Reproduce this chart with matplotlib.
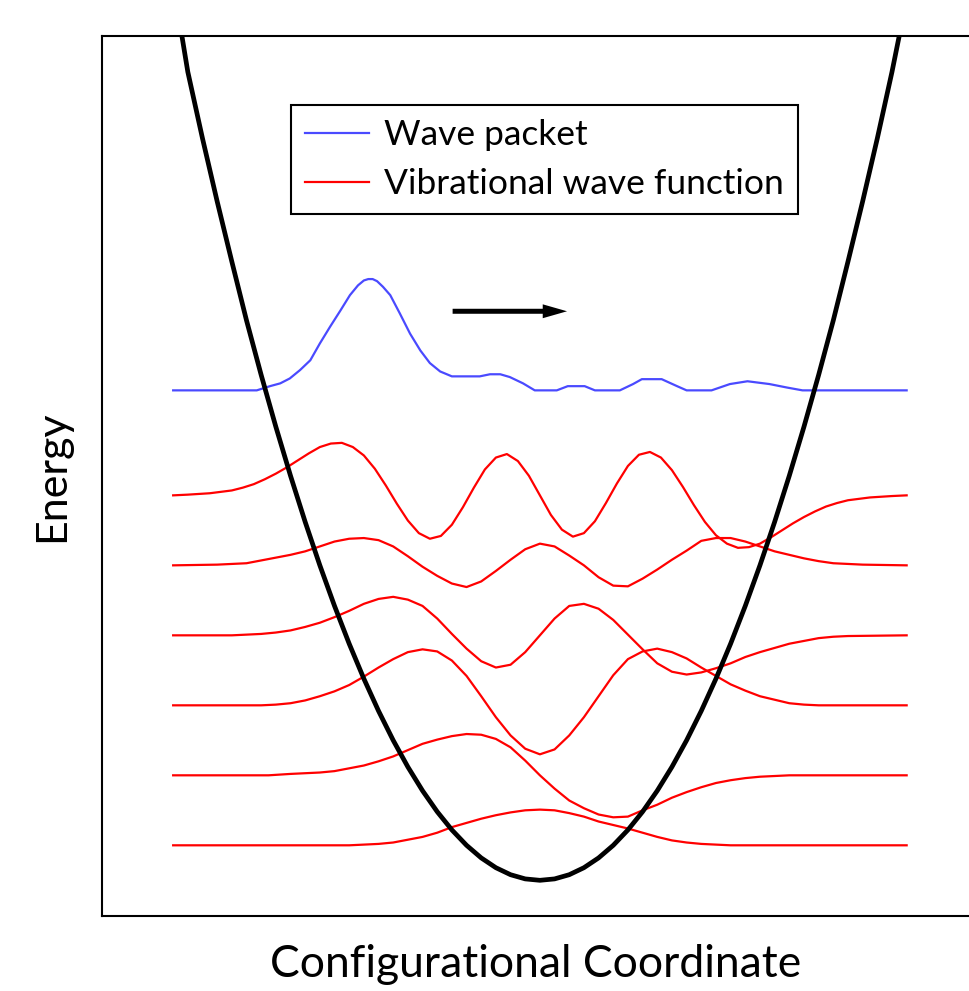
import matplotlib
matplotlib.use('Agg')
import matplotlib.pyplot as plt

plt.rcParams['font.family'] = ['Lato', 'DejaVu Sans']

# potential well V(q)
pot_x = [-5.05, -4.88, -4.8, -4.6, -4.4, -4.2, -4.0, -3.8, -3.6, -3.4, -3.2, -3.0, -2.8, -2.6,
         -2.4, -2.2, -2.0, -1.8, -1.6, -1.4, -1.2, -1.0, -0.8, -0.6, -0.4, -0.2, 0.0,
         0.2, 0.4, 0.6, 0.8, 1.0, 1.2, 1.4, 1.6, 1.8, 2.0, 2.2, 2.4, 2.6, 2.8, 3.0,
         3.2, 3.4, 3.6, 3.8, 4.0, 4.2, 4.4, 4.6, 4.8, 4.90, 5.07]
pot_y = [12.9, 12.06, 11.55, 10.6, 9.7, 8.84, 8.0, 7.22, 6.48, 5.78, 5.12, 4.5, 3.92, 3.38,
         2.88, 2.42, 2.0, 1.62, 1.28, 0.98, 0.72, 0.5, 0.32, 0.18, 0.08, 0.02, 0.0,
         0.02, 0.08, 0.18, 0.32, 0.5, 0.72, 0.98, 1.28, 1.62, 2.0, 2.42, 2.88, 3.38, 3.92, 4.5,
         5.12, 5.78, 6.48, 7.22, 8.0, 8.84, 9.7, 10.6, 11.55, 12.07, 12.9]

# vibrational levels (units of hbar*omega) and the wave functions drawn on them
levels = [0.5, 1.5, 2.5, 3.5, 4.5, 5.5]

psi0_x = [-5.0, -2.6, -2.4, -2.2, -2.0, -1.8, -1.6, -1.4, -1.2, -1.0, -0.8, -0.6, -0.4, -0.2, 0.0,
          0.2, 0.4, 0.6, 0.8, 1.0, 1.2, 1.4, 1.6, 1.8, 2.0, 2.2, 2.4, 2.6, 5.0]
psi0_y = [0, 0, 0.01, 0.02, 0.04, 0.08, 0.12, 0.18, 0.26, 0.32, 0.38, 0.43, 0.47, 0.50, 0.51,
          0.50, 0.46, 0.41, 0.34, 0.29, 0.24, 0.18, 0.12, 0.07, 0.04, 0.02, 0.01, 0, 0]

psi1_x = [-5.0, -3.7, -3.4, -3.2, -3.0, -2.8, -2.6, -2.4, -2.2, -2.0, -1.8, -1.6, -1.4, -1.2,
          -1.0, -0.8, -0.6, -0.4, -0.2, 0.0, 0.2, 0.4, 0.6, 0.8, 1.0, 1.2, 1.4, 1.6, 1.8,
          2.0, 2.2, 2.4, 2.6, 2.8, 3.0, 3.2, 3.4, 5.0]
psi1_y = [0, 0, 0.02, 0.03, 0.04, 0.06, 0.10, 0.14, 0.20, 0.27, 0.36, 0.45, 0.51, 0.56,
          0.59, 0.58, 0.52, 0.40, 0.21, 0.0, -0.19, -0.36, -0.47, -0.56, -0.60, -0.59, -0.50,
          -0.42, -0.32, -0.24, -0.17, -0.11, -0.07, -0.04, -0.02, -0.01, 0, 0]

psi2_x = [-5.0, -3.8, -3.6, -3.4, -3.2, -3.0, -2.8, -2.6, -2.4, -2.2, -2.0, -1.8, -1.6, -1.4,
          -1.2, -1.0, -0.8, -0.6, -0.4, -0.2, 0.0, 0.2, 0.4, 0.6, 0.8, 1.0, 1.2, 1.4, 1.6,
          1.8, 2.0, 2.2, 2.4, 2.6, 2.8, 3.0, 3.2, 3.4, 3.6, 3.8, 5.0]
psi2_y = [0, 0, 0.01, 0.03, 0.07, 0.13, 0.20, 0.29, 0.41, 0.54, 0.66, 0.76, 0.80, 0.77,
          0.64, 0.42, 0.13, -0.17, -0.43, -0.62, -0.70, -0.63, -0.43, -0.17, 0.13, 0.43, 0.66,
          0.77, 0.81, 0.76, 0.67, 0.54, 0.42, 0.30, 0.21, 0.13, 0.08, 0.03, 0.01, 0, 0]

psi3_x = [-5.0, -4.2, -4.0, -3.8, -3.6, -3.4, -3.2, -3.0, -2.8, -2.6, -2.4, -2.2, -2.0, -1.8,
          -1.6, -1.4, -1.2, -1.0, -0.8, -0.6, -0.4, -0.2, 0.0, 0.2, 0.4, 0.6, 0.8, 1.0, 1.2,
          1.4, 1.6, 1.8, 2.0, 2.2, 2.4, 2.6, 2.8, 3.0, 3.2, 3.4, 3.6, 3.8, 4.0, 4.2, 5.0]
psi3_y = [0, 0, 0.01, 0.02, 0.04, 0.07, 0.12, 0.18, 0.26, 0.35, 0.45, 0.52, 0.55, 0.51,
          0.42, 0.24, 0.02, -0.19, -0.37, -0.46, -0.42, -0.24, 0.0, 0.24, 0.42, 0.45, 0.38, 0.22,
          0.01, -0.20, -0.40, -0.52, -0.56, -0.53, -0.47, -0.40, -0.31, -0.24, -0.18, -0.12,
          -0.08, -0.04, -0.02, -0.01, 0]

psi4_x = [-5.0, -4.4, -4.2, -4.0, -3.8, -3.6, -3.4, -3.2, -3.0, -2.8, -2.6, -2.4, -2.2, -2.0,
          -1.8, -1.6, -1.4, -1.2, -1.0, -0.8, -0.6, -0.4, -0.2, 0.0, 0.2, 0.4, 0.6, 0.8, 1.0,
          1.2, 1.4, 1.6, 1.8, 2.0, 2.2, 2.4, 2.6, 2.8, 3.0, 3.2, 3.4, 3.6, 3.8, 4.0, 4.2,
          4.4, 5.0]
psi4_y = [0, 0.01, 0.02, 0.03, 0.07, 0.11, 0.15, 0.20, 0.27, 0.34, 0.38, 0.39, 0.36, 0.27,
          0.13, -0.02, -0.15, -0.26, -0.31, -0.23, -0.08, 0.08, 0.23, 0.31, 0.27, 0.14, 0.0,
          -0.17, -0.29, -0.30, -0.19, -0.06, 0.08, 0.21, 0.35, 0.39, 0.39, 0.34, 0.27, 0.20,
          0.15, 0.10, 0.06, 0.03, 0.02, 0.01, 0]

psi5_x = [-5.0, -4.8, -4.5, -4.35, -4.2, -4.05, -3.9, -3.75, -3.6, -3.45, -3.3, -3.15, -3.0,
          -2.85, -2.7, -2.55, -2.4, -2.25, -2.1, -1.95, -1.8, -1.65, -1.5, -1.35, -1.2, -1.05,
          -0.9, -0.75, -0.6, -0.45, -0.3, -0.15, 0.0, 0.15, 0.3, 0.45, 0.6, 0.75, 0.9, 1.05,
          1.2, 1.35, 1.5, 1.65, 1.8, 1.95, 2.1, 2.25, 2.4, 2.55, 2.7, 2.85, 3.0, 3.15, 3.3,
          3.45, 3.6, 3.75, 3.9, 4.05, 4.2, 4.35, 4.5, 4.8, 5.0]
psi5_y = [0, 0.01, 0.03, 0.05, 0.07, 0.11, 0.16, 0.23, 0.31, 0.40, 0.50, 0.60, 0.69,
          0.74, 0.75, 0.69, 0.57, 0.38, 0.14, -0.12, -0.36, -0.54, -0.62, -0.58, -0.42, -0.17,
          0.11, 0.37, 0.54, 0.59, 0.49, 0.28, 0.0, -0.28, -0.49, -0.59, -0.54, -0.37, -0.11, 0.17,
          0.42, 0.58, 0.62, 0.54, 0.36, 0.12, -0.14, -0.38, -0.57, -0.69, -0.75, -0.74, -0.69,
          -0.60, -0.50, -0.40, -0.31, -0.23, -0.16, -0.11, -0.07, -0.05, -0.03, -0.01, 0]

# wave packet drawn above the ladder
packet_level = 7.0
packet_x = [-5.0, -3.86, -3.68, -3.54, -3.41, -3.27, -3.13, -3.0, -2.86, -2.72, -2.59, -2.48,
            -2.40, -2.34, -2.28, -2.22, -2.14, -2.04, -1.91, -1.77, -1.63, -1.50, -1.36,
            -1.20, -0.82, -0.68, -0.54, -0.41, -0.23, -0.07, 0.23, 0.38, 0.61, 0.75, 1.09,
            1.27, 1.39, 1.66, 1.87, 2.0, 2.34, 2.59, 2.83, 3.13, 3.37, 3.58, 5.0]
packet_y = [0, 0, 0.06, 0.10, 0.17, 0.29, 0.43, 0.67, 0.91, 1.14, 1.36, 1.50,
            1.57, 1.59, 1.59, 1.56, 1.48, 1.36, 1.10, 0.81, 0.57, 0.39, 0.27,
            0.20, 0.20, 0.23, 0.23, 0.19, 0.10, 0, 0, 0.06, 0.06, 0, 0,
            0.09, 0.16, 0.16, 0.06, 0, 0, 0.09, 0.13, 0.09, 0.04, 0, 0]

fig = plt.figure(figsize=(9.69, 9.91), dpi=100)
ax = fig.add_axes([102 / 969, 75 / 991, 867 / 969, 880.5 / 991])

psis = [(psi0_x, psi0_y), (psi1_x, psi1_y), (psi2_x, psi2_y),
        (psi3_x, psi3_y), (psi4_x, psi4_y), (psi5_x, psi5_y)]
for n, (qx, qy) in enumerate(psis):
    ax.plot(qx, [levels[n] + v for v in qy], color='red', lw=1.6,
            label='Vibrational wave function' if n == 0 else None, zorder=2)

ax.plot(packet_x, [packet_level + v for v in packet_y], color='#4a4aff', lw=1.6,
        label='Wave packet', zorder=2)

ax.plot(pot_x, pot_y, color='black', lw=3.4, zorder=3, solid_capstyle='butt')

# direction of motion of the packet
ax.annotate('', xy=(0.37, 8.13), xytext=(-1.19, 8.13),
            arrowprops=dict(arrowstyle='simple,head_length=1.75,head_width=1.0,tail_width=0.36',
                            mutation_scale=10, lw=0, color='black',
                            shrinkA=0, shrinkB=0))

ax.set_xlim(-5.97, 5.85)
ax.set_ylim(-0.51, 12.07)
ax.set_xticks([])
ax.set_yticks([])
ax.spines['right'].set_visible(False)
for s in ['left', 'top', 'bottom']:
    ax.spines[s].set_linewidth(1.5)

ax.set_xlabel('Configurational Coordinate', fontsize=32, labelpad=20)
ax.set_ylabel('Energy', fontsize=31, labelpad=22)

h, l = ax.get_legend_handles_labels()
order = [l.index('Wave packet'), l.index('Vibrational wave function')]
leg = ax.legend([h[i] for i in order], [l[i] for i in order], loc='upper left',
                bbox_to_anchor=(0.218, 0.921), borderaxespad=0, fontsize=25.5,
                fancybox=False, framealpha=1, edgecolor='black', handlelength=1.8,
                handletextpad=0.42, borderpad=0.4, labelspacing=0.48)
leg.get_frame().set_linewidth(1.5)

fig.savefig('out.png', dpi=100)
